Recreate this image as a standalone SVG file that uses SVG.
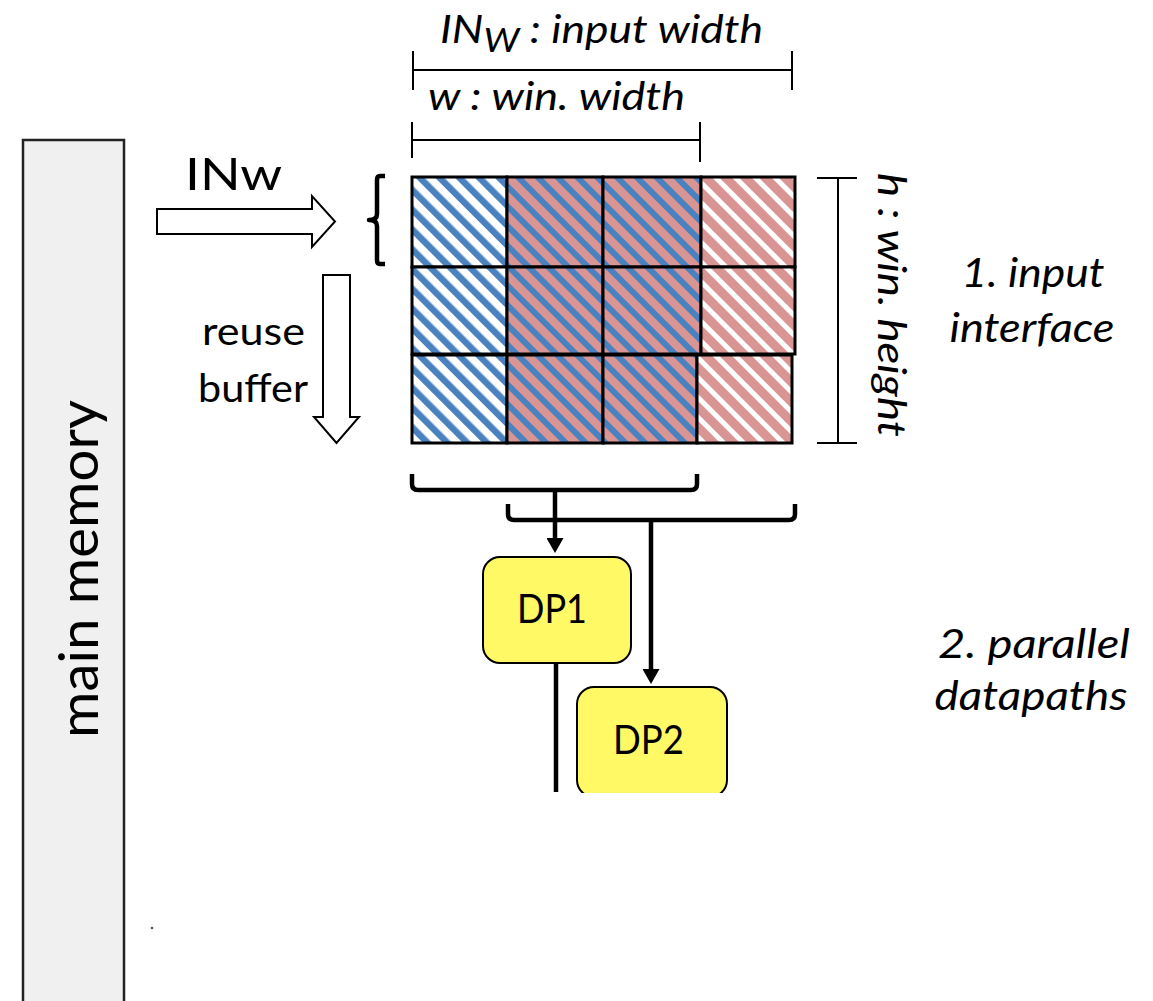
<svg xmlns="http://www.w3.org/2000/svg" width="1153" height="1001" viewBox="0 0 1153 1001">
<style>
  .t { font-family: Lato, "Liberation Sans", sans-serif; fill: #000; }
  .it { font-style: italic; }
  .dim { stroke: #000; stroke-width: 2; fill: none; }
  .cell { stroke: #000; stroke-width: 3; }
  .brace { stroke: #000; stroke-width: 4.5; fill: none; stroke-linejoin: round; }
  .wire { stroke: #000; stroke-width: 4.5; fill: none; }
  .block { fill: #fff; stroke: #000; stroke-width: 2; }
  .dp { fill: #FFF966; stroke: #000; stroke-width: 2; }
</style>
<defs>
  <pattern id="bw" patternUnits="userSpaceOnUse" width="14" height="14" patternTransform="rotate(-45)">
    <rect width="14" height="14" fill="#ffffff"/>
    <rect x="0" width="6.5" height="14" fill="#4A81BF"/>
  </pattern>
  <pattern id="bp" patternUnits="userSpaceOnUse" width="14" height="14" patternTransform="rotate(-45)">
    <rect width="14" height="14" fill="#D99594"/>
    <rect x="0" width="6" height="14" fill="#4A81BF"/>
  </pattern>
  <pattern id="wp" patternUnits="userSpaceOnUse" width="14" height="14" patternTransform="rotate(-45)">
    <rect width="14" height="14" fill="#D99594"/>
    <rect x="0" width="5" height="14" fill="#ffffff"/>
  </pattern>
  <marker id="ah" viewBox="0 0 15 17" refX="0" refY="8.5" markerWidth="15" markerHeight="17" markerUnits="userSpaceOnUse" orient="auto">
    <path d="M0,0 L15,8.5 L0,17 z" fill="#000"/>
  </marker>
  <clipPath id="cut"><rect x="0" y="0" width="1153" height="793"/></clipPath>
</defs>

<g id="main-memory">
  <rect x="23" y="140" width="101" height="900" fill="#F0F0F0" stroke="#222" stroke-width="2.5"/>
  <text class="t" font-size="54" text-anchor="middle" transform="translate(98,569) rotate(-90)" textLength="338" lengthAdjust="spacingAndGlyphs">main memory</text>
</g>
<circle cx="152" cy="928" r="1.3" fill="#555"/>

<g id="input-arrow">
  <polygon class="block" points="157,209 312,209 312,196 335,221.5 312,247 312,234 157,234"/>
  <text class="t" x="185" y="190" font-size="44" textLength="97" lengthAdjust="spacingAndGlyphs">INw</text>
</g>

<g id="reuse-buffer">
  <polygon class="block" points="323,275 350,275 350,417 359,417 336.5,443 314,417 323,417"/>
  <text class="t" x="202" y="345" font-size="39" textLength="103" lengthAdjust="spacingAndGlyphs">reuse</text>
  <text class="t" x="198" y="402" font-size="39" textLength="110" lengthAdjust="spacingAndGlyphs">buffer</text>
</g>

<g id="input-brace">
  <path class="brace" d="M385,176 L380,176 Q377,176 377,180 L377,214 Q377,220 369,220 Q377,220 377,226 L377,260 Q377,264 380,264 L385,264"/>
</g>

<g id="window-grid">
  <rect class="cell" x="412" y="177" width="95" height="90" fill="url(#bw)"/>
  <rect class="cell" x="507" y="177" width="96" height="90" fill="url(#bp)"/>
  <rect class="cell" x="603" y="177" width="98" height="90" fill="url(#bp)"/>
  <rect class="cell" x="701" y="177" width="94" height="90" fill="url(#wp)"/>
  <rect class="cell" x="412" y="267" width="95" height="87" fill="url(#bw)"/>
  <rect class="cell" x="507" y="267" width="96" height="87" fill="url(#bp)"/>
  <rect class="cell" x="603" y="267" width="98" height="87" fill="url(#bp)"/>
  <rect class="cell" x="701" y="267" width="94" height="87" fill="url(#wp)"/>
  <rect class="cell" x="412" y="355" width="95" height="88" fill="url(#bw)"/>
  <rect class="cell" x="507" y="355" width="96" height="88" fill="url(#bp)"/>
  <rect class="cell" x="603" y="355" width="94" height="88" fill="url(#bp)"/>
  <rect class="cell" x="697" y="355" width="95" height="88" fill="url(#wp)"/>
</g>

<g id="dimensions">
  <path class="dim" d="M413,51 V90 M792,51 V90 M413,70 H792"/>
  <text class="t it" x="440" y="43" font-size="39" textLength="323" lengthAdjust="spacingAndGlyphs">IN<tspan font-size="33" dy="9">W</tspan><tspan dy="-9"> : input width</tspan></text>
  <path class="dim" d="M412,122 V158 M700,122 V162 M412,140 H700"/>
  <text class="t it" x="428" y="110" font-size="39" textLength="257" lengthAdjust="spacingAndGlyphs">w : win. width</text>
  <path class="dim" d="M817,178 H857 M817,443 H857 M838,178 V443"/>
  <text class="t it" font-size="39" transform="translate(878,173) rotate(90)" textLength="264" lengthAdjust="spacingAndGlyphs">h : win. height</text>
</g>

<g id="labels">
  <text class="t it" x="1033" y="287" font-size="40" text-anchor="middle" textLength="143" lengthAdjust="spacingAndGlyphs">1. input</text>
  <text class="t it" x="1032" y="342" font-size="40" text-anchor="middle" textLength="165" lengthAdjust="spacingAndGlyphs">interface</text>
  <text class="t it" x="1034" y="658" font-size="40" text-anchor="middle" textLength="192" lengthAdjust="spacingAndGlyphs">2. parallel</text>
  <text class="t it" x="1031" y="710" font-size="40" text-anchor="middle" textLength="193" lengthAdjust="spacingAndGlyphs">datapaths</text>
</g>

<g id="DP1">
  <rect class="dp" x="483" y="557" width="148" height="106" rx="17"/>
  <text class="t" x="552" y="623" font-size="40" text-anchor="middle" textLength="70" lengthAdjust="spacingAndGlyphs">DP1</text>
</g>

<g id="DP2" clip-path="url(#cut)">
  <rect class="dp" x="577" y="687" width="150" height="110" rx="17"/>
  <text class="t" x="648.5" y="754" font-size="40" text-anchor="middle" textLength="71" lengthAdjust="spacingAndGlyphs">DP2</text>
</g>

<g id="connectors">
  <path class="brace" d="M412,474 V484 Q412,490 418,490 H691 Q697,490 697,484 V474"/>
  <path class="brace" d="M508,504 V514 Q508,520 514,520 H789 Q795,520 795,514 V504"/>
  <path class="wire" d="M555,490 V538" marker-end="url(#ah)"/>
  <path class="wire" d="M651,520 V669" marker-end="url(#ah)"/>
  <path class="wire" d="M556,663 V792"/>
</g>
</svg>
